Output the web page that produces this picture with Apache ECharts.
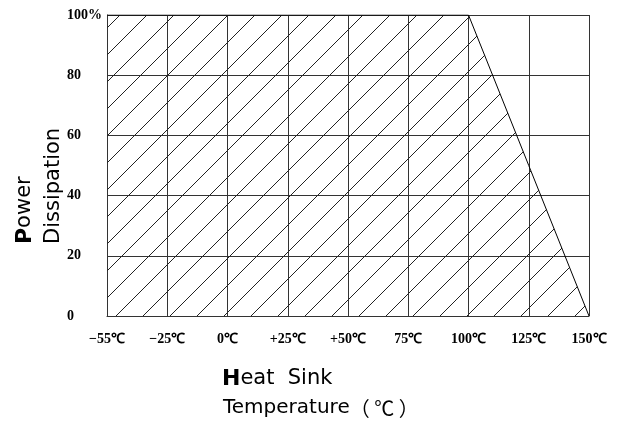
<!DOCTYPE html>
<html lang="en">
<head>
<meta charset="UTF-8">
<title>Derating</title>
<script src="https://cdn.jsdelivr.net/npm/echarts@6/dist/echarts.min.js"></script>
<style>
html,body{margin:0;padding:0;background:#fff;}
#chartBox{width:623px;height:424px;}
</style>
</head>
<body>
<div id="chartBox"></div>
<script>
// 数据
const tempLabels = ['\u221255\u2103', '\u221225\u2103', '0\u2103', '+25\u2103', '+50\u2103', '75\u2103', '100\u2103', '125\u2103', '150\u2103'];
const powerValues = [100, 100, 100, 100, 100, 100, 100, 50, 0];
const yTicks = [0, 20, 40, 60, 80, 100];

// 斜线填充图案
function hatchPattern(size) {
    let c = document.createElement('canvas');
    c.width = size; c.height = size;
    let ctx = c.getContext('2d');
    ctx.strokeStyle = '#222';
    ctx.lineWidth = 1;
    [-size, 0, size].forEach(function (o) {
        ctx.beginPath();
        ctx.moveTo(-size + o, 2 * size);
        ctx.lineTo(2 * size + o, -size);
        ctx.stroke();
    });
    return c;
}

let chartObj = echarts.init(document.getElementById('chartBox'));
let labelFont = {fontFamily: 'Liberation Serif', fontWeight: 'bold', fontSize: 14, color: '#000'};
let titleFont = '"DejaVu Sans", "Noto Sans CJK SC"';

let option = {
    animation: false,
    grid: {left: 107, right: 34, top: 15, bottom: 108},
    xAxis: {
        type: 'category',
        data: tempLabels,
        boundaryGap: false,
        axisLine: {lineStyle: {color: '#333', width: 1}},
        axisTick: {show: false},
        splitLine: {show: true, lineStyle: {color: '#333', width: 1}},
        axisLabel: Object.assign({margin: 16, interval: 0}, labelFont)
    },
    yAxis: {
        type: 'value',
        min: yTicks[0],
        max: yTicks[yTicks.length - 1],
        interval: 20,
        axisLine: {show: true, lineStyle: {color: '#333', width: 1}},
        axisTick: {show: false},
        splitLine: {show: true, lineStyle: {color: '#333', width: 1}},
        axisLabel: Object.assign({
            margin: 40,
            align: 'left',
            padding: [6, 0, 0, 0],
            formatter: function (v) { return v === 100 ? '100%' : String(v); }
        }, labelFont)
    },
    series: [{
        type: 'line',
        data: powerValues,
        symbol: 'none',
        lineStyle: {color: '#000', width: 1},
        areaStyle: {
            color: {image: hatchPattern(27), repeat: 'repeat'},
            opacity: 1
        },
        z: 1
    }],
    graphic: [
        {
            type: 'text', x: 25, y: 244, rotation: Math.PI / 2,
            style: {
                text: '{b|P}ower',
                align: 'left', verticalAlign: 'middle',
                font: '21px ' + titleFont, fill: '#000',
                rich: {b: {font: 'bold 22px ' + titleFont, fill: '#000'}}
            }
        },
        {
            type: 'text', x: 54, y: 244, rotation: Math.PI / 2,
            style: {
                text: 'Dissipation',
                align: 'left', verticalAlign: 'middle',
                font: '21px ' + titleFont, fill: '#000'
            }
        },
        {
            type: 'text', x: 222, y: 379,
            style: {
                text: '{b|H}eat  Sink',
                align: 'left', verticalAlign: 'middle',
                font: '21px ' + titleFont, fill: '#000',
                rich: {b: {font: 'bold 22px ' + titleFont, fill: '#000'}}
            }
        },
        {
            type: 'text', x: 223, y: 408,
            style: {
                text: 'Temperature{c|\uff08 \u2103 \uff09}',
                align: 'left', verticalAlign: 'middle',
                font: '20px ' + titleFont, fill: '#000',
                rich: {c: {font: '20px "Noto Sans CJK SC"', fill: '#000'}}
            }
        }
    ]
};
chartObj.setOption(option);
</script>
</body>
</html>
